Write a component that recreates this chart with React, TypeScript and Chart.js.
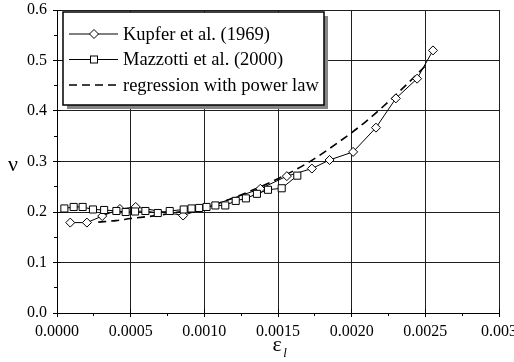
import React, { useEffect, useRef } from 'react';
import { Chart, registerables } from 'chart.js';

Chart.register(...registerables);

// Poisson's ratio versus lateral strain
const kupferStrain = [0.00009, 0.000203, 0.000307, 0.000427, 0.000534, 0.000856, 0.00138, 0.00156, 0.00173, 0.00185, 0.00201, 0.002165, 0.0023, 0.002444, 0.002552];
const kupferNu = [0.179, 0.179, 0.192, 0.206, 0.21, 0.193, 0.246, 0.271, 0.286, 0.303, 0.319, 0.367, 0.425, 0.464, 0.52];

const mazzottiStrain = [0.00005, 0.000113, 0.000174, 0.000244, 0.00032, 0.000403, 0.000466, 0.00053, 0.0006, 0.000684, 0.000765, 0.00086, 0.000913, 0.000965, 0.001015, 0.001075, 0.001142, 0.001213, 0.001282, 0.001357, 0.001432, 0.001525, 0.001631];
const mazzottiNu = [0.207, 0.21, 0.21, 0.205, 0.204, 0.202, 0.2, 0.201, 0.202, 0.198, 0.202, 0.205, 0.207, 0.208, 0.21, 0.213, 0.213, 0.222, 0.227, 0.236, 0.244, 0.247, 0.272];

const regressionStrain = [0.00028, 0.0004, 0.0005, 0.0007, 0.0009, 0.0011, 0.0013, 0.0015, 0.0017, 0.0019, 0.0021, 0.0023, 0.00252];
const regressionNu = [0.18, 0.183, 0.187, 0.194, 0.204, 0.218, 0.24, 0.266, 0.297, 0.336, 0.38, 0.432, 0.495];

const xTickValues = [0, 0.0005, 0.001, 0.0015, 0.002, 0.0025, 0.003];
const xTickLabels = ['0.0000', '0.0005', '0.0010', '0.0015', '0.0020', '0.0025', '0.003'];
const yTickValues = [0, 0.1, 0.2, 0.3, 0.4, 0.5, 0.6];
const yTickLabels = ['0.0', '0.1', '0.2', '0.3', '0.4', '0.5', '0.6'];

const legendLabels = ['Kupfer et al. (1969)', 'Mazzotti et al. (2000)', 'regression with power law'];
const yTitle = 'ν';
const xTitle = 'ε';
const xTitleSub = 'l';

const SERIF = '"Liberation Serif", "Times New Roman", serif';

const toPoints = (xs: number[], ys: number[]) => xs.map((x, i) => ({ x, y: ys[i] }));

const align = (p: number) => Math.round(p - 0.5) + 0.5;

const decorPlugin = {
  id: 'decor',
  afterDraw(chart: any) {
    const ctx: CanvasRenderingContext2D = chart.ctx;
    const { left, bottom } = chart.chartArea;
    const xs = chart.scales.x;
    const ys = chart.scales.y;
    ctx.save();
    ctx.strokeStyle = '#000';
    ctx.lineWidth = 1;
    ctx.setLineDash([]);

    // axis tick marks: majors cross the axis, minors point outward
    ctx.beginPath();
    xTickValues.forEach((v, i) => {
      const px = align(xs.getPixelForValue(v));
      ctx.moveTo(px, bottom - 4);
      ctx.lineTo(px, bottom + 4);
      if (i < xTickValues.length - 1) {
        const mx = align(xs.getPixelForValue((v + xTickValues[i + 1]) / 2));
        ctx.moveTo(mx, bottom);
        ctx.lineTo(mx, bottom + 3);
      }
    });
    yTickValues.forEach((v, i) => {
      const py = align(ys.getPixelForValue(v));
      ctx.moveTo(left - 4, py);
      ctx.lineTo(left + 4, py);
      if (i < yTickValues.length - 1) {
        const my = align(ys.getPixelForValue((v + yTickValues[i + 1]) / 2));
        ctx.moveTo(left - 3, my);
        ctx.lineTo(left, my);
      }
    });
    ctx.stroke();

    // legend box with drop shadow
    const bx = 63, by = 12, bw = 261, bh = 93;
    ctx.fillStyle = '#858585';
    ctx.fillRect(bx + 4, by + 4, bw, bh);
    ctx.fillStyle = '#fff';
    ctx.fillRect(bx, by, bw, bh);
    ctx.lineWidth = 1.5;
    ctx.strokeRect(bx, by, bw, bh);

    const rows = [34, 59.5, 85];
    const lx0 = 69, lx1 = 118, mx = 94;
    ctx.font = `18.5px ${SERIF}`;
    ctx.textBaseline = 'middle';
    ctx.textAlign = 'left';
    ctx.fillStyle = '#000';
    rows.forEach((ry, i) => {
      ctx.lineWidth = i === 2 ? 1.5 : 1;
      ctx.setLineDash(i === 2 ? [8, 5] : []);
      ctx.beginPath();
      ctx.moveTo(lx0, ry);
      ctx.lineTo(i === 2 ? 121 : lx1, ry);
      ctx.stroke();
      ctx.setLineDash([]);
      ctx.lineWidth = 1;
      if (i === 0) {
        ctx.beginPath();
        ctx.moveTo(mx, ry - 4.5);
        ctx.lineTo(mx + 4.5, ry);
        ctx.lineTo(mx, ry + 4.5);
        ctx.lineTo(mx - 4.5, ry);
        ctx.closePath();
        ctx.fillStyle = '#fff';
        ctx.fill();
        ctx.stroke();
      } else if (i === 1) {
        ctx.fillStyle = '#fff';
        ctx.fillRect(mx - 3.5, ry - 3.5, 7, 7);
        ctx.strokeRect(mx - 3.5, ry - 3.5, 7, 7);
      }
      ctx.fillStyle = '#000';
      ctx.fillText(legendLabels[i], 123, ry + 1);
    });

    // axis titles
    ctx.font = `22px ${SERIF}`;
    ctx.textAlign = 'center';
    ctx.fillText(yTitle, 13, 165);
    ctx.fillText(xTitle, 277, 345);
    ctx.font = `italic 13px ${SERIF}`;
    ctx.fillText(xTitleSub, 285, 354);
    ctx.restore();
  },
};

export default function App() {
  const canvasRef = useRef<HTMLCanvasElement | null>(null);

  useEffect(() => {
    if (!canvasRef.current) return;
    const chart = new Chart(canvasRef.current, {
      type: 'scatter',
      data: {
        datasets: [
          {
            label: legendLabels[2],
            data: toPoints(regressionStrain, regressionNu),
            showLine: true,
            borderColor: '#000',
            borderWidth: 1.6,
            borderDash: [8, 5],
            pointRadius: 0,
            cubicInterpolationMode: 'monotone',
            order: 3,
          },
          {
            label: legendLabels[0],
            data: toPoints(kupferStrain, kupferNu),
            showLine: true,
            borderColor: '#000',
            borderWidth: 1,
            pointStyle: 'rectRot',
            pointRadius: 4.5,
            pointBorderWidth: 1,
            pointBackgroundColor: '#fff',
            pointBorderColor: '#000',
            order: 2,
          },
          {
            label: legendLabels[1],
            data: toPoints(mazzottiStrain, mazzottiNu),
            showLine: true,
            borderColor: '#000',
            borderWidth: 1,
            pointStyle: 'rect',
            pointRadius: 5,
            pointBorderWidth: 1,
            pointBackgroundColor: '#fff',
            pointBorderColor: '#000',
            order: 1,
          },
        ],
      },
      options: {
        responsive: false,
        animation: false,
        devicePixelRatio: 1,
        layout: { padding: { left: 0, top: 10, right: 15, bottom: 0 } },
        plugins: {
          legend: { display: false },
          tooltip: { enabled: false },
          title: { display: false },
        },
        scales: {
          x: {
            type: 'linear',
            min: 0,
            max: 0.003,
            afterBuildTicks: (s: any) => {
              s.ticks = xTickValues.map((value) => ({ value }));
            },
            afterFit: (s: any) => {
              s.height = 49;
              s.paddingLeft = 0;
              s.paddingRight = 0;
            },
            ticks: {
              autoSkip: false,
              maxRotation: 0,
              padding: 9,
              color: '#000',
              font: { family: SERIF, size: 16 },
              callback: (_v: any, i: number) => xTickLabels[i],
            },
            grid: { color: '#1f1f1f', lineWidth: 1, drawTicks: false },
            border: { display: true, color: '#000', width: 1 },
          },
          y: {
            type: 'linear',
            min: 0,
            max: 0.6,
            afterBuildTicks: (s: any) => {
              s.ticks = yTickValues.map((value) => ({ value }));
            },
            afterFit: (s: any) => {
              s.width = 57;
              s.paddingTop = 0;
              s.paddingBottom = 0;
            },
            ticks: {
              autoSkip: false,
              padding: 10,
              color: '#000',
              font: { family: SERIF, size: 16 },
              callback: (_v: any, i: number) => yTickLabels[i],
            },
            grid: { color: '#1f1f1f', lineWidth: 1, drawTicks: false },
            border: { display: true, color: '#000', width: 1 },
          },
        },
      },
      plugins: [decorPlugin],
    } as any);
    return () => chart.destroy();
  }, []);

  return (
    <div style={{ position: 'fixed', left: 0, top: 0, width: 514, height: 362, background: '#fff' }}>
      <canvas ref={canvasRef} width={514} height={362} style={{ display: 'block', width: 514, height: 362 }} />
    </div>
  );
}
